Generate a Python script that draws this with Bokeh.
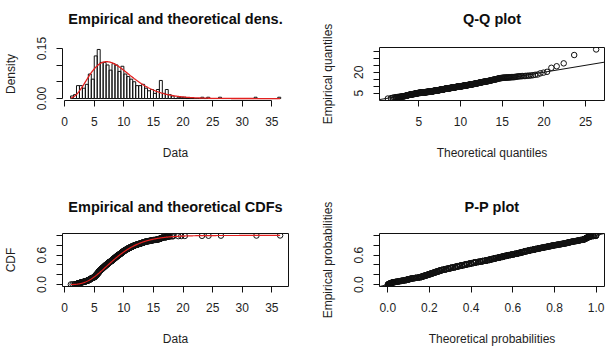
import math
import numpy as np
from bokeh.plotting import figure
from bokeh.layouts import row, column
from bokeh.models import Range1d, FixedTicker, PrintfTickFormatter, Title
from bokeh.embed import file_html
from bokeh.resources import INLINE

# Observations recorded to one decimal: frequencies of the values
# 1.05, 1.15, ..., 18.45 (one row per half-unit class), then the sparse upper tail
tenth_start = 1.05
tenth_counts = [
    1, 0, 0, 1, 0,   0, 1, 1, 0, 1,   2, 2, 3, 1, 2,   2, 3, 1, 2, 2,
    1, 2, 2, 1, 2,   2, 2, 3, 2, 2,   3, 4, 4, 4, 4,   3, 3, 3, 2, 4,
    6, 7, 6, 7, 7,   8, 7, 8, 7, 8,   6, 5, 6, 5, 6,   5, 6, 6, 5, 6,
    5, 5, 6, 5, 5,   5, 4, 4, 5, 4,   5, 6, 5, 6, 5,   5, 5, 6, 5, 5,
    4, 4, 5, 4, 4,   5, 5, 5, 5, 5,   4, 4, 4, 3, 4,   4, 3, 4, 3, 3,
    3, 3, 3, 3, 3,   3, 3, 2, 3, 2,   2, 2, 2, 2, 2,   2, 2, 2, 2, 2,
    2, 3, 2, 2, 2,   2, 2, 1, 2, 1,   1, 1, 2, 1, 1,   2, 1, 1, 2, 1,
    1, 1, 0, 1, 1,   1, 2, 1, 2, 1,   3, 3, 3, 2, 3,   1, 1, 1, 0, 1,
    2, 1, 2, 1, 1,   1, 1, 0, 1, 0,   0, 1, 0, 1, 0,
]
tail_values = [19.2, 19.7, 20.3, 23.2, 24.3, 26.4, 32.4, 36.4]

# Fitted gamma distribution
gamma_shape = 5.0
gamma_rate = 0.565

# Histogram breaks
hist_from, hist_to, hist_width = 1.0, 36.5, 0.5

# Tick positions (labelled / unlabelled)
data_ticks = [0, 5, 10, 15, 20, 25, 30, 35]
dens_ticks = [0.0, 0.15]
dens_minor = [0.05, 0.10]
qq_x_ticks = [5, 10, 15, 20, 25]
qq_y_ticks = [5, 20]
qq_y_minor = [10, 15, 25, 30, 35]
prob_ticks = [0.0, 0.6]
prob_minor = [0.2, 0.4, 0.8, 1.0]
pp_x_ticks = [0.0, 0.2, 0.4, 0.6, 0.8, 1.0]

FONT = "Liberation Sans"
TEXT = "#1e1e1e"
INK = "#111111"
RED = "#e3201f"

tenth_values = np.round(tenth_start + 0.1 * np.arange(len(tenth_counts)), 2)
sample = np.sort(np.concatenate([np.repeat(tenth_values, tenth_counts),
                                 np.array(tail_values)]))
n = sample.size


# --- gamma distribution functions -----------------------------------------
def gamma_pdf(x):
    x = np.asarray(x, float)
    return np.exp(gamma_shape * math.log(gamma_rate) + (gamma_shape - 1) * np.log(x)
                  - gamma_rate * x - math.lgamma(gamma_shape))


def gamma_cdf(x):
    z = np.maximum(np.asarray(x, float) * gamma_rate, 1e-300)
    term = np.full_like(z, 1.0 / gamma_shape)
    total = term.copy()
    for k in range(1, 400):
        term = term * z / (gamma_shape + k)
        total = total + term
    return np.minimum(1.0, total * np.exp(-z + gamma_shape * np.log(z)
                                          - math.lgamma(gamma_shape)))


grid = np.linspace(1e-6, 80, 40001)
grid_cdf = gamma_cdf(grid)


def gamma_quantile(p):
    return np.interp(p, grid_cdf, grid)


ppts = (np.arange(1, n + 1) - 0.5) / n


def padded(lo, hi):
    d = (hi - lo) * 0.04
    return Range1d(lo - d, hi + d)


# --- panel factory ---------------------------------------------------------
def panel(width, height, borders, xr, yr, title, xlabel, ylabel, gap, boxed=True):
    left, right, top, bottom = borders
    p = figure(width=width, height=height, x_range=xr, y_range=yr,
               output_backend="svg", toolbar_location=None,
               min_border_left=left, min_border_right=right,
               min_border_top=top, min_border_bottom=bottom)
    p.xgrid.visible = False
    p.ygrid.visible = False
    p.outline_line_color = INK if boxed else None
    p.outline_line_width = 1
    p.background_fill_color = "white"
    p.border_fill_color = "white"
    # blank strip between the plotting region and the main title
    p.add_layout(Title(text=" ", text_font_size="10px", standoff=gap), "above")
    p.add_layout(Title(text=title, align="center", text_font=FONT,
                       text_font_size="14.5px", text_font_style="bold",
                       text_color="#0e0e0e", standoff=4), "above")
    p.xaxis.axis_label = xlabel
    p.yaxis.axis_label = ylabel
    for ax in (p.xaxis[0], p.yaxis[0]):
        ax.axis_line_color = INK
        ax.major_tick_line_color = INK
        ax.minor_tick_line_color = INK
        ax.major_tick_out = 6
        ax.major_tick_in = 0
        ax.minor_tick_out = 6
        ax.minor_tick_in = 0
        ax.major_label_text_font = FONT
        ax.major_label_text_font_size = "12px"
        ax.major_label_text_color = TEXT
        ax.major_label_standoff = 10
        ax.axis_label_text_font = FONT
        ax.axis_label_text_font_size = "12px"
        ax.axis_label_text_font_style = "normal"
        ax.axis_label_text_color = TEXT
        ax.axis_label_standoff = 17
    p.yaxis.major_label_orientation = "vertical"
    return p


def set_ticks(ax, ticks, minor, fmt, bounds):
    ax.ticker = FixedTicker(ticks=ticks, minor_ticks=minor)
    ax.formatter = PrintfTickFormatter(format=fmt)
    ax.bounds = bounds


TOP = (187, 47, 87)
BOT = (173, 46, 74)

# --- empirical and theoretical densities ------------------------------------
breaks = np.arange(hist_from, hist_to + hist_width / 2, hist_width)
hist_counts, _ = np.histogram(sample, bins=breaks)
hist_dens = hist_counts / (n * hist_width)
dx = np.linspace(sample.min(), sample.max(), 400)
dy = gamma_pdf(dx)
ymax = max(hist_dens.max(), dy.max())

p1 = panel(306, TOP[0], (62, 18, TOP[1], TOP[2]),
           padded(sample.min(), sample.max()), padded(0, ymax),
           "Empirical and theoretical dens.", "Data", "Density", 6, boxed=False)
p1.quad(left=breaks[:-1], right=breaks[1:], bottom=0, top=hist_dens,
        fill_color=None, line_color=INK, line_width=1)
p1.line(dx, dy, line_color=RED, line_width=1.3)
set_ticks(p1.xaxis[0], data_ticks, [], "%d", (0, 35))
set_ticks(p1.yaxis[0], dens_ticks, dens_minor, "%.2f", (0, 0.15))

# --- Q-Q plot ---------------------------------------------------------------
tq = gamma_quantile(ppts)
p2 = panel(306, TOP[0], (73, 8, TOP[1], TOP[2]),
           padded(tq.min(), tq.max()), padded(sample.min(), sample.max()),
           "Q-Q plot", "Theoretical quantiles", "Empirical quantiles", 6)
p2.scatter(tq, sample, marker="circle", size=5.5, fill_color=None,
           line_color=INK, line_width=1)
lx = np.array([-5.0, 60.0])
p2.line(lx, lx, line_color=INK, line_width=1)
set_ticks(p2.xaxis[0], qq_x_ticks, [], "%d", (5, 25))
set_ticks(p2.yaxis[0], qq_y_ticks, qq_y_minor, "%d", (5, 35))

# --- empirical and theoretical CDFs -----------------------------------------
ecdf = np.arange(1, n + 1) / n
cx = np.linspace(sample.min(), sample.max(), 400)
p3 = panel(306, BOT[0], (62, 18, BOT[1], BOT[2]),
           padded(sample.min(), sample.max()), padded(0, 1),
           "Empirical and theoretical CDFs", "Data", "CDF", 4)
p3.scatter(sample, ecdf, marker="circle", size=5.5, fill_color=None,
           line_color=INK, line_width=1)
p3.line(cx, gamma_cdf(cx), line_color=RED, line_width=1.2)
set_ticks(p3.xaxis[0], data_ticks, [], "%d", (0, 35))
set_ticks(p3.yaxis[0], prob_ticks, prob_minor, "%.1f", (0, 1))

# --- P-P plot ---------------------------------------------------------------
tp = gamma_cdf(sample)
p4 = panel(306, BOT[0], (73, 8, BOT[1], BOT[2]),
           padded(tp.min(), tp.max()), padded(ppts.min(), ppts.max()),
           "P-P plot", "Theoretical probabilities", "Empirical probabilities", 4)
p4.line(np.array([-1.0, 2.0]), np.array([-1.0, 2.0]), line_color=INK, line_width=1)
p4.scatter(tp, ppts, marker="circle", size=5.5, fill_color=None,
           line_color=INK, line_width=1)
set_ticks(p4.xaxis[0], pp_x_ticks, [], "%.1f", (0, 1))
set_ticks(p4.yaxis[0], prob_ticks, prob_minor, "%.1f", (0, 1))

layout = column(row(p1, p2, spacing=0), row(p3, p4, spacing=0), spacing=0)

with open("out.html", "w") as fh:
    fh.write(file_html(layout, INLINE))
